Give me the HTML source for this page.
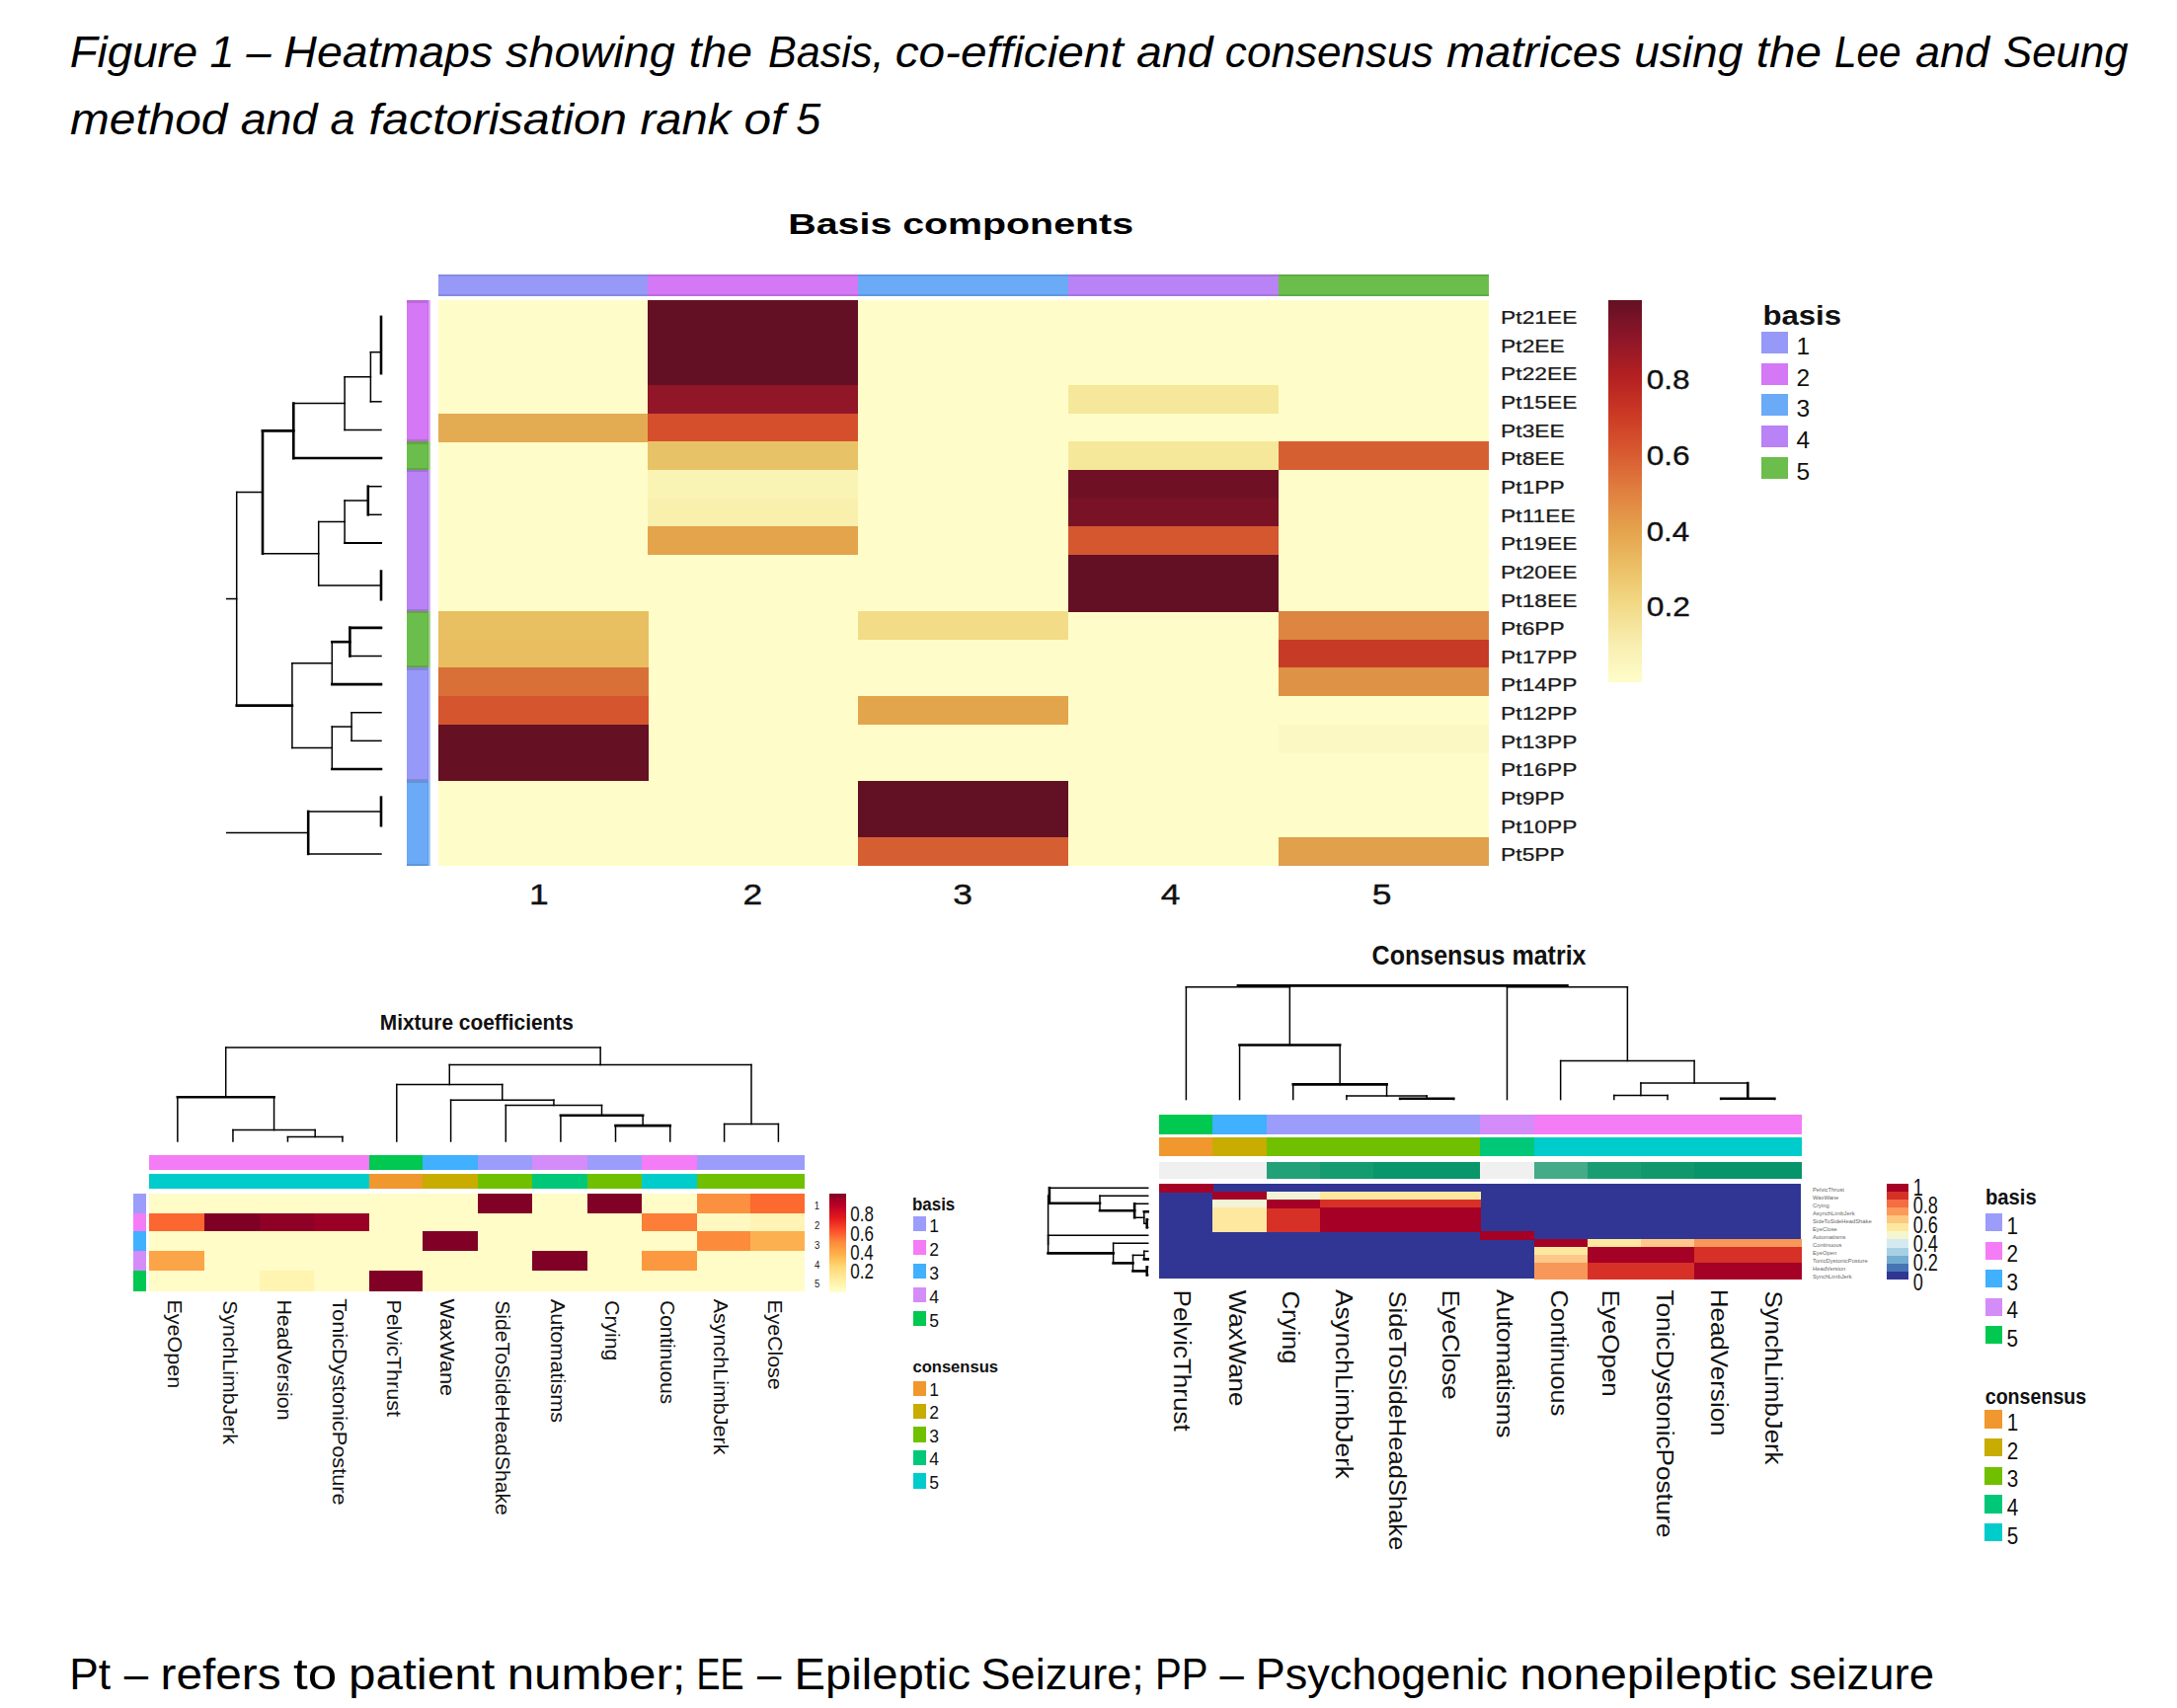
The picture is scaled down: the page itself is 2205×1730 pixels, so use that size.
<!DOCTYPE html><html><head><meta charset="utf-8"><style>html,body{margin:0;padding:0;background:#fff;overflow:hidden;}svg{display:block}text{font-family:"Liberation Sans",sans-serif;}</style></head><body>
<svg width="2205" height="1730" viewBox="0 0 2205 1730">
<rect x="0.00" y="0.00" width="2205.00" height="1730.00" fill="#fff" shape-rendering="crispEdges"/>
<text transform="translate(70.73,68.00) scale(1.0150,1)" font-size="45" font-weight="normal" font-style="italic" fill="#000">Figure</text>
<text transform="translate(212.51,68.00) scale(1.0000,1)" font-size="45" font-weight="normal" font-style="italic" fill="#000">1</text>
<text transform="translate(249.61,68.00) scale(1.0000,1)" font-size="45" font-weight="normal" font-style="italic" fill="#000">–</text>
<text transform="translate(287.30,68.00) scale(1.0333,1)" font-size="45" font-weight="normal" font-style="italic" fill="#000">Heatmaps</text>
<text transform="translate(512.08,68.00) scale(1.0402,1)" font-size="45" font-weight="normal" font-style="italic" fill="#000">showing</text>
<text transform="translate(697.72,68.00) scale(1.0280,1)" font-size="45" font-weight="normal" font-style="italic" fill="#000">the</text>
<text transform="translate(778.11,68.00) scale(0.9579,1)" font-size="45" font-weight="normal" font-style="italic" fill="#000">Basis,</text>
<text transform="translate(906.65,68.00) scale(1.0621,1)" font-size="45" font-weight="normal" font-style="italic" fill="#000">co-efficient</text>
<text transform="translate(1151.06,68.00) scale(1.0311,1)" font-size="45" font-weight="normal" font-style="italic" fill="#000">and</text>
<text transform="translate(1240.87,68.00) scale(0.9801,1)" font-size="45" font-weight="normal" font-style="italic" fill="#000">consensus</text>
<text transform="translate(1465.08,68.00) scale(1.0434,1)" font-size="45" font-weight="normal" font-style="italic" fill="#000">matrices</text>
<text transform="translate(1655.14,68.00) scale(1.0247,1)" font-size="45" font-weight="normal" font-style="italic" fill="#000">using</text>
<text transform="translate(1778.76,68.00) scale(1.0585,1)" font-size="45" font-weight="normal" font-style="italic" fill="#000">the</text>
<text transform="translate(1857.99,68.00) scale(0.9000,1)" font-size="45" font-weight="normal" font-style="italic" fill="#000">Lee</text>
<text transform="translate(1939.99,68.00) scale(1.0005,1)" font-size="45" font-weight="normal" font-style="italic" fill="#000">and</text>
<text transform="translate(2029.00,68.00) scale(0.9737,1)" font-size="45" font-weight="normal" font-style="italic" fill="#000">Seung</text>
<text transform="translate(71.06,136.00) scale(1.0623,1)" font-size="45" font-weight="normal" font-style="italic" fill="#000">method</text>
<text transform="translate(243.65,136.00) scale(1.0364,1)" font-size="45" font-weight="normal" font-style="italic" fill="#000">and</text>
<text transform="translate(334.39,136.00) scale(1.0000,1)" font-size="45" font-weight="normal" font-style="italic" fill="#000">a</text>
<text transform="translate(373.42,136.00) scale(1.0784,1)" font-size="45" font-weight="normal" font-style="italic" fill="#000">factorisation</text>
<text transform="translate(648.58,136.00) scale(1.0470,1)" font-size="45" font-weight="normal" font-style="italic" fill="#000">rank</text>
<text transform="translate(753.39,136.00) scale(1.1042,1)" font-size="45" font-weight="normal" font-style="italic" fill="#000">of</text>
<text transform="translate(806.30,136.00) scale(1.0000,1)" font-size="45" font-weight="normal" font-style="italic" fill="#000">5</text>
<text transform="translate(70.14,1710.70) scale(1.0144,1)" font-size="43.7" font-weight="normal" font-style="normal" fill="#000">Pt</text>
<text transform="translate(125.72,1710.70) scale(1.0000,1)" font-size="43.7" font-weight="normal" font-style="normal" fill="#000">–</text>
<text transform="translate(162.50,1710.70) scale(1.0924,1)" font-size="43.7" font-weight="normal" font-style="normal" fill="#000">refers</text>
<text transform="translate(296.90,1710.70) scale(1.2155,1)" font-size="43.7" font-weight="normal" font-style="normal" fill="#000">to</text>
<text transform="translate(353.09,1710.70) scale(1.1301,1)" font-size="43.7" font-weight="normal" font-style="normal" fill="#000">patient</text>
<text transform="translate(513.67,1710.70) scale(1.1285,1)" font-size="43.7" font-weight="normal" font-style="normal" fill="#000">number;</text>
<text transform="translate(705.53,1710.70) scale(0.8246,1)" font-size="43.7" font-weight="normal" font-style="normal" fill="#000">EE</text>
<text transform="translate(766.97,1710.70) scale(1.0000,1)" font-size="43.7" font-weight="normal" font-style="normal" fill="#000">–</text>
<text transform="translate(804.50,1710.70) scale(1.0812,1)" font-size="43.7" font-weight="normal" font-style="normal" fill="#000">Epileptic</text>
<text transform="translate(993.57,1710.70) scale(1.0313,1)" font-size="43.7" font-weight="normal" font-style="normal" fill="#000">Seizure;</text>
<text transform="translate(1169.89,1710.70) scale(0.9191,1)" font-size="43.7" font-weight="normal" font-style="normal" fill="#000">PP</text>
<text transform="translate(1235.52,1710.70) scale(1.0000,1)" font-size="43.7" font-weight="normal" font-style="normal" fill="#000">–</text>
<text transform="translate(1271.68,1710.70) scale(1.0306,1)" font-size="43.7" font-weight="normal" font-style="normal" fill="#000">Psychogenic</text>
<text transform="translate(1539.20,1710.70) scale(1.1179,1)" font-size="43.7" font-weight="normal" font-style="normal" fill="#000">nonepileptic</text>
<text transform="translate(1812.25,1710.70) scale(1.0416,1)" font-size="43.7" font-weight="normal" font-style="normal" fill="#000">seizure</text>
<text transform="translate(798.34,236.50) scale(1.3117,1)" font-size="30" font-weight="bold" font-style="normal" fill="#000">Basis components</text>
<rect x="443.50" y="304.30" width="1064.00" height="572.60" fill="#FEFDC9" shape-rendering="crispEdges"/>
<rect x="443.50" y="418.82" width="213.10" height="28.93" fill="#E4AC52" shape-rendering="crispEdges"/>
<rect x="443.50" y="619.23" width="213.10" height="28.93" fill="#E8C062" shape-rendering="crispEdges"/>
<rect x="443.50" y="647.86" width="213.10" height="28.93" fill="#E8BE60" shape-rendering="crispEdges"/>
<rect x="443.50" y="676.49" width="213.10" height="28.93" fill="#D97038" shape-rendering="crispEdges"/>
<rect x="443.50" y="705.12" width="213.10" height="28.93" fill="#D5552E" shape-rendering="crispEdges"/>
<rect x="443.50" y="733.75" width="213.10" height="28.93" fill="#661024" shape-rendering="crispEdges"/>
<rect x="443.50" y="762.38" width="213.10" height="28.93" fill="#661024" shape-rendering="crispEdges"/>
<rect x="656.30" y="304.30" width="213.10" height="28.93" fill="#641024" shape-rendering="crispEdges"/>
<rect x="656.30" y="332.93" width="213.10" height="28.93" fill="#641024" shape-rendering="crispEdges"/>
<rect x="656.30" y="361.56" width="213.10" height="28.93" fill="#641024" shape-rendering="crispEdges"/>
<rect x="656.30" y="390.19" width="213.10" height="28.93" fill="#911627" shape-rendering="crispEdges"/>
<rect x="656.30" y="418.82" width="213.10" height="28.93" fill="#D54F2D" shape-rendering="crispEdges"/>
<rect x="656.30" y="447.45" width="213.10" height="28.93" fill="#E8C266" shape-rendering="crispEdges"/>
<rect x="656.30" y="476.08" width="213.10" height="28.93" fill="#FAF4B4" shape-rendering="crispEdges"/>
<rect x="656.30" y="504.71" width="213.10" height="28.93" fill="#F9F0AE" shape-rendering="crispEdges"/>
<rect x="656.30" y="533.34" width="213.10" height="28.93" fill="#E3A44C" shape-rendering="crispEdges"/>
<rect x="869.10" y="619.23" width="213.10" height="28.93" fill="#F2DC88" shape-rendering="crispEdges"/>
<rect x="869.10" y="705.12" width="213.10" height="28.93" fill="#E3A54C" shape-rendering="crispEdges"/>
<rect x="869.10" y="791.01" width="213.10" height="28.93" fill="#621024" shape-rendering="crispEdges"/>
<rect x="869.10" y="819.64" width="213.10" height="28.93" fill="#621024" shape-rendering="crispEdges"/>
<rect x="869.10" y="848.27" width="213.10" height="28.93" fill="#D55F33" shape-rendering="crispEdges"/>
<rect x="1081.90" y="390.19" width="213.10" height="28.93" fill="#F6E89A" shape-rendering="crispEdges"/>
<rect x="1081.90" y="447.45" width="213.10" height="28.93" fill="#F6E89A" shape-rendering="crispEdges"/>
<rect x="1081.90" y="476.08" width="213.10" height="28.93" fill="#701024" shape-rendering="crispEdges"/>
<rect x="1081.90" y="504.71" width="213.10" height="28.93" fill="#7A1226" shape-rendering="crispEdges"/>
<rect x="1081.90" y="533.34" width="213.10" height="28.93" fill="#D55730" shape-rendering="crispEdges"/>
<rect x="1081.90" y="561.97" width="213.10" height="28.93" fill="#641024" shape-rendering="crispEdges"/>
<rect x="1081.90" y="590.60" width="213.10" height="28.93" fill="#641024" shape-rendering="crispEdges"/>
<rect x="1294.70" y="447.45" width="213.10" height="28.93" fill="#D65F32" shape-rendering="crispEdges"/>
<rect x="1294.70" y="619.23" width="213.10" height="28.93" fill="#DC8642" shape-rendering="crispEdges"/>
<rect x="1294.70" y="647.86" width="213.10" height="28.93" fill="#C73A26" shape-rendering="crispEdges"/>
<rect x="1294.70" y="676.49" width="213.10" height="28.93" fill="#DE9245" shape-rendering="crispEdges"/>
<rect x="1294.70" y="733.75" width="213.10" height="28.93" fill="#FBF8C4" shape-rendering="crispEdges"/>
<rect x="1294.70" y="848.27" width="213.10" height="28.93" fill="#E0A04C" shape-rendering="crispEdges"/>
<rect x="443.50" y="278.10" width="213.10" height="21.60" fill="#9699F7" shape-rendering="crispEdges"/>
<rect x="443.50" y="278.10" width="213.10" height="2.20" fill="#8789DE" shape-rendering="crispEdges"/>
<rect x="443.50" y="297.50" width="213.10" height="2.20" fill="#8789DE" shape-rendering="crispEdges"/>
<rect x="656.30" y="278.10" width="213.10" height="21.60" fill="#D478F6" shape-rendering="crispEdges"/>
<rect x="656.30" y="278.10" width="213.10" height="2.20" fill="#BE6CDD" shape-rendering="crispEdges"/>
<rect x="656.30" y="297.50" width="213.10" height="2.20" fill="#BE6CDD" shape-rendering="crispEdges"/>
<rect x="869.10" y="278.10" width="213.10" height="21.60" fill="#6AAAF6" shape-rendering="crispEdges"/>
<rect x="869.10" y="278.10" width="213.10" height="2.20" fill="#5F99DD" shape-rendering="crispEdges"/>
<rect x="869.10" y="297.50" width="213.10" height="2.20" fill="#5F99DD" shape-rendering="crispEdges"/>
<rect x="1081.90" y="278.10" width="213.10" height="21.60" fill="#B982F5" shape-rendering="crispEdges"/>
<rect x="1081.90" y="278.10" width="213.10" height="2.20" fill="#A675DC" shape-rendering="crispEdges"/>
<rect x="1081.90" y="297.50" width="213.10" height="2.20" fill="#A675DC" shape-rendering="crispEdges"/>
<rect x="1294.70" y="278.10" width="213.10" height="21.60" fill="#6CBE4C" shape-rendering="crispEdges"/>
<rect x="1294.70" y="278.10" width="213.10" height="2.20" fill="#61AB44" shape-rendering="crispEdges"/>
<rect x="1294.70" y="297.50" width="213.10" height="2.20" fill="#61AB44" shape-rendering="crispEdges"/>
<rect x="411.60" y="304.30" width="24.70" height="28.93" fill="#D478F6" shape-rendering="crispEdges"/>
<rect x="411.60" y="304.30" width="24.70" height="2.20" fill="#BA69D8" shape-rendering="crispEdges"/>
<rect x="432.60" y="304.30" width="1.60" height="28.93" fill="#C36EE2" shape-rendering="crispEdges"/>
<rect x="434.20" y="304.30" width="2.10" height="28.93" fill="#E3A7F9" shape-rendering="crispEdges"/>
<rect x="411.60" y="332.93" width="24.70" height="28.93" fill="#D478F6" shape-rendering="crispEdges"/>
<rect x="432.60" y="332.93" width="1.60" height="28.93" fill="#C36EE2" shape-rendering="crispEdges"/>
<rect x="434.20" y="332.93" width="2.10" height="28.93" fill="#E3A7F9" shape-rendering="crispEdges"/>
<rect x="411.60" y="361.56" width="24.70" height="28.93" fill="#D478F6" shape-rendering="crispEdges"/>
<rect x="432.60" y="361.56" width="1.60" height="28.93" fill="#C36EE2" shape-rendering="crispEdges"/>
<rect x="434.20" y="361.56" width="2.10" height="28.93" fill="#E3A7F9" shape-rendering="crispEdges"/>
<rect x="411.60" y="390.19" width="24.70" height="28.93" fill="#D478F6" shape-rendering="crispEdges"/>
<rect x="432.60" y="390.19" width="1.60" height="28.93" fill="#C36EE2" shape-rendering="crispEdges"/>
<rect x="434.20" y="390.19" width="2.10" height="28.93" fill="#E3A7F9" shape-rendering="crispEdges"/>
<rect x="411.60" y="418.82" width="24.70" height="28.93" fill="#D478F6" shape-rendering="crispEdges"/>
<rect x="411.60" y="445.25" width="24.70" height="2.20" fill="#BA69D8" shape-rendering="crispEdges"/>
<rect x="432.60" y="418.82" width="1.60" height="28.93" fill="#C36EE2" shape-rendering="crispEdges"/>
<rect x="434.20" y="418.82" width="2.10" height="28.93" fill="#E3A7F9" shape-rendering="crispEdges"/>
<rect x="411.60" y="447.45" width="24.70" height="28.93" fill="#6CBE4C" shape-rendering="crispEdges"/>
<rect x="411.60" y="447.45" width="24.70" height="2.20" fill="#5FA742" shape-rendering="crispEdges"/>
<rect x="411.60" y="473.88" width="24.70" height="2.20" fill="#5FA742" shape-rendering="crispEdges"/>
<rect x="432.60" y="447.45" width="1.60" height="28.93" fill="#63AE45" shape-rendering="crispEdges"/>
<rect x="434.20" y="447.45" width="2.10" height="28.93" fill="#9FD48A" shape-rendering="crispEdges"/>
<rect x="411.60" y="476.08" width="24.70" height="28.93" fill="#B982F5" shape-rendering="crispEdges"/>
<rect x="411.60" y="476.08" width="24.70" height="2.20" fill="#A272D7" shape-rendering="crispEdges"/>
<rect x="432.60" y="476.08" width="1.60" height="28.93" fill="#AA77E1" shape-rendering="crispEdges"/>
<rect x="434.20" y="476.08" width="2.10" height="28.93" fill="#D1ADF8" shape-rendering="crispEdges"/>
<rect x="411.60" y="504.71" width="24.70" height="28.93" fill="#B982F5" shape-rendering="crispEdges"/>
<rect x="432.60" y="504.71" width="1.60" height="28.93" fill="#AA77E1" shape-rendering="crispEdges"/>
<rect x="434.20" y="504.71" width="2.10" height="28.93" fill="#D1ADF8" shape-rendering="crispEdges"/>
<rect x="411.60" y="533.34" width="24.70" height="28.93" fill="#B982F5" shape-rendering="crispEdges"/>
<rect x="432.60" y="533.34" width="1.60" height="28.93" fill="#AA77E1" shape-rendering="crispEdges"/>
<rect x="434.20" y="533.34" width="2.10" height="28.93" fill="#D1ADF8" shape-rendering="crispEdges"/>
<rect x="411.60" y="561.97" width="24.70" height="28.93" fill="#B982F5" shape-rendering="crispEdges"/>
<rect x="432.60" y="561.97" width="1.60" height="28.93" fill="#AA77E1" shape-rendering="crispEdges"/>
<rect x="434.20" y="561.97" width="2.10" height="28.93" fill="#D1ADF8" shape-rendering="crispEdges"/>
<rect x="411.60" y="590.60" width="24.70" height="28.93" fill="#B982F5" shape-rendering="crispEdges"/>
<rect x="411.60" y="617.03" width="24.70" height="2.20" fill="#A272D7" shape-rendering="crispEdges"/>
<rect x="432.60" y="590.60" width="1.60" height="28.93" fill="#AA77E1" shape-rendering="crispEdges"/>
<rect x="434.20" y="590.60" width="2.10" height="28.93" fill="#D1ADF8" shape-rendering="crispEdges"/>
<rect x="411.60" y="619.23" width="24.70" height="28.93" fill="#6CBE4C" shape-rendering="crispEdges"/>
<rect x="411.60" y="619.23" width="24.70" height="2.20" fill="#5FA742" shape-rendering="crispEdges"/>
<rect x="432.60" y="619.23" width="1.60" height="28.93" fill="#63AE45" shape-rendering="crispEdges"/>
<rect x="434.20" y="619.23" width="2.10" height="28.93" fill="#9FD48A" shape-rendering="crispEdges"/>
<rect x="411.60" y="647.86" width="24.70" height="28.93" fill="#6CBE4C" shape-rendering="crispEdges"/>
<rect x="411.60" y="674.29" width="24.70" height="2.20" fill="#5FA742" shape-rendering="crispEdges"/>
<rect x="432.60" y="647.86" width="1.60" height="28.93" fill="#63AE45" shape-rendering="crispEdges"/>
<rect x="434.20" y="647.86" width="2.10" height="28.93" fill="#9FD48A" shape-rendering="crispEdges"/>
<rect x="411.60" y="676.49" width="24.70" height="28.93" fill="#9699F7" shape-rendering="crispEdges"/>
<rect x="411.60" y="676.49" width="24.70" height="2.20" fill="#8486D9" shape-rendering="crispEdges"/>
<rect x="432.60" y="676.49" width="1.60" height="28.93" fill="#8A8CE3" shape-rendering="crispEdges"/>
<rect x="434.20" y="676.49" width="2.10" height="28.93" fill="#BABCF9" shape-rendering="crispEdges"/>
<rect x="411.60" y="705.12" width="24.70" height="28.93" fill="#9699F7" shape-rendering="crispEdges"/>
<rect x="432.60" y="705.12" width="1.60" height="28.93" fill="#8A8CE3" shape-rendering="crispEdges"/>
<rect x="434.20" y="705.12" width="2.10" height="28.93" fill="#BABCF9" shape-rendering="crispEdges"/>
<rect x="411.60" y="733.75" width="24.70" height="28.93" fill="#9699F7" shape-rendering="crispEdges"/>
<rect x="432.60" y="733.75" width="1.60" height="28.93" fill="#8A8CE3" shape-rendering="crispEdges"/>
<rect x="434.20" y="733.75" width="2.10" height="28.93" fill="#BABCF9" shape-rendering="crispEdges"/>
<rect x="411.60" y="762.38" width="24.70" height="28.93" fill="#9699F7" shape-rendering="crispEdges"/>
<rect x="411.60" y="788.81" width="24.70" height="2.20" fill="#8486D9" shape-rendering="crispEdges"/>
<rect x="432.60" y="762.38" width="1.60" height="28.93" fill="#8A8CE3" shape-rendering="crispEdges"/>
<rect x="434.20" y="762.38" width="2.10" height="28.93" fill="#BABCF9" shape-rendering="crispEdges"/>
<rect x="411.60" y="791.01" width="24.70" height="28.93" fill="#6AAAF6" shape-rendering="crispEdges"/>
<rect x="411.60" y="791.01" width="24.70" height="2.20" fill="#5D95D8" shape-rendering="crispEdges"/>
<rect x="432.60" y="791.01" width="1.60" height="28.93" fill="#619CE2" shape-rendering="crispEdges"/>
<rect x="434.20" y="791.01" width="2.10" height="28.93" fill="#9EC7F9" shape-rendering="crispEdges"/>
<rect x="411.60" y="819.64" width="24.70" height="28.93" fill="#6AAAF6" shape-rendering="crispEdges"/>
<rect x="432.60" y="819.64" width="1.60" height="28.93" fill="#619CE2" shape-rendering="crispEdges"/>
<rect x="434.20" y="819.64" width="2.10" height="28.93" fill="#9EC7F9" shape-rendering="crispEdges"/>
<rect x="411.60" y="848.27" width="24.70" height="28.93" fill="#6AAAF6" shape-rendering="crispEdges"/>
<rect x="411.60" y="874.70" width="24.70" height="2.20" fill="#5D95D8" shape-rendering="crispEdges"/>
<rect x="432.60" y="848.27" width="1.60" height="28.93" fill="#619CE2" shape-rendering="crispEdges"/>
<rect x="434.20" y="848.27" width="2.10" height="28.93" fill="#9EC7F9" shape-rendering="crispEdges"/>
<text transform="translate(1520.12,328.22) scale(1.2,1)" font-size="19" fill="#1a1a1a" stroke="#1a1a1a" stroke-width="0.25">Pt21EE</text>
<text transform="translate(1520.12,356.85) scale(1.2,1)" font-size="19" fill="#1a1a1a" stroke="#1a1a1a" stroke-width="0.25">Pt2EE</text>
<text transform="translate(1520.12,385.48) scale(1.2,1)" font-size="19" fill="#1a1a1a" stroke="#1a1a1a" stroke-width="0.25">Pt22EE</text>
<text transform="translate(1520.12,414.11) scale(1.2,1)" font-size="19" fill="#1a1a1a" stroke="#1a1a1a" stroke-width="0.25">Pt15EE</text>
<text transform="translate(1520.12,442.74) scale(1.2,1)" font-size="19" fill="#1a1a1a" stroke="#1a1a1a" stroke-width="0.25">Pt3EE</text>
<text transform="translate(1520.12,471.37) scale(1.2,1)" font-size="19" fill="#1a1a1a" stroke="#1a1a1a" stroke-width="0.25">Pt8EE</text>
<text transform="translate(1520.12,500.00) scale(1.2,1)" font-size="19" fill="#1a1a1a" stroke="#1a1a1a" stroke-width="0.25">Pt1PP</text>
<text transform="translate(1520.12,528.62) scale(1.2,1)" font-size="19" fill="#1a1a1a" stroke="#1a1a1a" stroke-width="0.25">Pt11EE</text>
<text transform="translate(1520.12,557.25) scale(1.2,1)" font-size="19" fill="#1a1a1a" stroke="#1a1a1a" stroke-width="0.25">Pt19EE</text>
<text transform="translate(1520.12,585.89) scale(1.2,1)" font-size="19" fill="#1a1a1a" stroke="#1a1a1a" stroke-width="0.25">Pt20EE</text>
<text transform="translate(1520.12,614.51) scale(1.2,1)" font-size="19" fill="#1a1a1a" stroke="#1a1a1a" stroke-width="0.25">Pt18EE</text>
<text transform="translate(1520.12,643.15) scale(1.2,1)" font-size="19" fill="#1a1a1a" stroke="#1a1a1a" stroke-width="0.25">Pt6PP</text>
<text transform="translate(1520.12,671.77) scale(1.2,1)" font-size="19" fill="#1a1a1a" stroke="#1a1a1a" stroke-width="0.25">Pt17PP</text>
<text transform="translate(1520.12,700.41) scale(1.2,1)" font-size="19" fill="#1a1a1a" stroke="#1a1a1a" stroke-width="0.25">Pt14PP</text>
<text transform="translate(1520.12,729.03) scale(1.2,1)" font-size="19" fill="#1a1a1a" stroke="#1a1a1a" stroke-width="0.25">Pt12PP</text>
<text transform="translate(1520.12,757.67) scale(1.2,1)" font-size="19" fill="#1a1a1a" stroke="#1a1a1a" stroke-width="0.25">Pt13PP</text>
<text transform="translate(1520.12,786.29) scale(1.2,1)" font-size="19" fill="#1a1a1a" stroke="#1a1a1a" stroke-width="0.25">Pt16PP</text>
<text transform="translate(1520.12,814.93) scale(1.2,1)" font-size="19" fill="#1a1a1a" stroke="#1a1a1a" stroke-width="0.25">Pt9PP</text>
<text transform="translate(1520.12,843.55) scale(1.2,1)" font-size="19" fill="#1a1a1a" stroke="#1a1a1a" stroke-width="0.25">Pt10PP</text>
<text transform="translate(1520.12,872.19) scale(1.2,1)" font-size="19" fill="#1a1a1a" stroke="#1a1a1a" stroke-width="0.25">Pt5PP</text>
<text transform="translate(535.99,915.50) scale(1.2000,1)" font-size="29.5" font-weight="normal" fill="#111" stroke="#111" stroke-width="0.4">1</text>
<text transform="translate(752.48,915.50) scale(1.2000,1)" font-size="29.5" font-weight="normal" fill="#111" stroke="#111" stroke-width="0.4">2</text>
<text transform="translate(965.16,915.50) scale(1.2000,1)" font-size="29.5" font-weight="normal" fill="#111" stroke="#111" stroke-width="0.4">3</text>
<text transform="translate(1175.87,915.50) scale(1.2000,1)" font-size="29.5" font-weight="normal" fill="#111" stroke="#111" stroke-width="0.4">4</text>
<text transform="translate(1389.68,915.50) scale(1.2000,1)" font-size="29.5" font-weight="normal" fill="#111" stroke="#111" stroke-width="0.4">5</text>
<defs><linearGradient id="gb" x1="0" y1="0" x2="0" y2="1"><stop offset="0" stop-color="#641024"/><stop offset="0.1" stop-color="#8E1628"/><stop offset="0.2" stop-color="#B42021"/><stop offset="0.3" stop-color="#CC3A25"/><stop offset="0.4" stop-color="#D85A30"/><stop offset="0.5" stop-color="#E08040"/><stop offset="0.6" stop-color="#E5A24C"/><stop offset="0.7" stop-color="#EBC066"/><stop offset="0.8" stop-color="#F2DA88"/><stop offset="0.9" stop-color="#F8EEB0"/><stop offset="1" stop-color="#FEFDCA"/></linearGradient><linearGradient id="gm" x1="0" y1="0" x2="0" y2="1"><stop offset="0" stop-color="#800026"/><stop offset="0.125" stop-color="#BD0026"/><stop offset="0.25" stop-color="#E31A1C"/><stop offset="0.375" stop-color="#FC4E2A"/><stop offset="0.5" stop-color="#FD8D3C"/><stop offset="0.625" stop-color="#FEB24C"/><stop offset="0.75" stop-color="#FED976"/><stop offset="0.875" stop-color="#FFEDA0"/><stop offset="1" stop-color="#FFFFCC"/></linearGradient></defs>
<rect x="1629.00" y="304.30" width="34.20" height="387.00" fill="url(#gb)" shape-rendering="crispEdges"/>
<text transform="translate(1667.74,393.80) scale(1.1083,1)" font-size="28.5" font-weight="normal" font-style="normal" fill="#111" stroke="#111" stroke-width="0.35">0.8</text>
<text transform="translate(1667.74,471.00) scale(1.1083,1)" font-size="28.5" font-weight="normal" font-style="normal" fill="#111" stroke="#111" stroke-width="0.35">0.6</text>
<text transform="translate(1667.75,547.60) scale(1.0957,1)" font-size="28.5" font-weight="normal" font-style="normal" fill="#111" stroke="#111" stroke-width="0.35">0.4</text>
<text transform="translate(1667.73,624.30) scale(1.1147,1)" font-size="28.5" font-weight="normal" font-style="normal" fill="#111" stroke="#111" stroke-width="0.35">0.2</text>
<text transform="translate(1785.48,328.60) scale(1.1534,1)" font-size="27" font-weight="bold" font-style="normal" fill="#111">basis</text>
<rect x="1784.20" y="336.00" width="26.80" height="21.80" fill="#9699F7" shape-rendering="crispEdges"/>
<text transform="translate(1819.60,358.90) scale(1.0000,1)" font-size="24.5" font-weight="normal" fill="#111">1</text>
<rect x="1784.20" y="367.70" width="26.80" height="21.80" fill="#D478F6" shape-rendering="crispEdges"/>
<text transform="translate(1819.60,390.60) scale(1.0000,1)" font-size="24.5" font-weight="normal" fill="#111">2</text>
<rect x="1784.20" y="399.40" width="26.80" height="21.80" fill="#6AAAF6" shape-rendering="crispEdges"/>
<text transform="translate(1819.60,422.30) scale(1.0000,1)" font-size="24.5" font-weight="normal" fill="#111">3</text>
<rect x="1784.20" y="431.10" width="26.80" height="21.80" fill="#B982F5" shape-rendering="crispEdges"/>
<text transform="translate(1819.60,454.00) scale(1.0000,1)" font-size="24.5" font-weight="normal" fill="#111">4</text>
<rect x="1784.20" y="462.80" width="26.80" height="21.80" fill="#6CBE4C" shape-rendering="crispEdges"/>
<text transform="translate(1819.60,485.70) scale(1.0000,1)" font-size="24.5" font-weight="normal" fill="#111">5</text>
<line x1="386.00" y1="320.92" x2="386.00" y2="378.18" stroke="#000" stroke-width="2.6" stroke-linecap="square"/>
<line x1="375.40" y1="356.70" x2="375.40" y2="406.81" stroke="#000" stroke-width="1.5" stroke-linecap="square"/>
<line x1="375.40" y1="356.70" x2="386.00" y2="356.70" stroke="#000" stroke-width="1.5" stroke-linecap="square"/>
<line x1="375.40" y1="406.81" x2="386.00" y2="406.81" stroke="#000" stroke-width="1.5" stroke-linecap="square"/>
<line x1="349.10" y1="381.75" x2="349.10" y2="435.44" stroke="#000" stroke-width="1.5" stroke-linecap="square"/>
<line x1="349.10" y1="381.75" x2="375.40" y2="381.75" stroke="#000" stroke-width="1.5" stroke-linecap="square"/>
<line x1="349.10" y1="435.44" x2="386.00" y2="435.44" stroke="#000" stroke-width="1.5" stroke-linecap="square"/>
<line x1="297.30" y1="408.59" x2="297.30" y2="464.06" stroke="#000" stroke-width="2.6" stroke-linecap="square"/>
<line x1="297.30" y1="408.59" x2="349.10" y2="408.59" stroke="#000" stroke-width="1.5" stroke-linecap="square"/>
<line x1="297.30" y1="464.06" x2="386.00" y2="464.06" stroke="#000" stroke-width="2.6" stroke-linecap="square"/>
<line x1="372.80" y1="492.69" x2="372.80" y2="521.32" stroke="#000" stroke-width="2.6" stroke-linecap="square"/>
<line x1="372.80" y1="492.69" x2="386.00" y2="492.69" stroke="#000" stroke-width="1.5" stroke-linecap="square"/>
<line x1="372.80" y1="521.32" x2="386.00" y2="521.32" stroke="#000" stroke-width="1.5" stroke-linecap="square"/>
<line x1="349.10" y1="507.01" x2="349.10" y2="549.95" stroke="#000" stroke-width="1.5" stroke-linecap="square"/>
<line x1="349.10" y1="507.01" x2="372.80" y2="507.01" stroke="#000" stroke-width="1.5" stroke-linecap="square"/>
<line x1="349.10" y1="549.95" x2="386.00" y2="549.95" stroke="#000" stroke-width="2.0" stroke-linecap="square"/>
<line x1="386.00" y1="578.59" x2="386.00" y2="607.21" stroke="#000" stroke-width="2.6" stroke-linecap="square"/>
<line x1="322.70" y1="528.48" x2="322.70" y2="592.90" stroke="#000" stroke-width="1.5" stroke-linecap="square"/>
<line x1="322.70" y1="528.48" x2="349.10" y2="528.48" stroke="#000" stroke-width="1.5" stroke-linecap="square"/>
<line x1="322.70" y1="592.90" x2="386.00" y2="592.90" stroke="#000" stroke-width="1.5" stroke-linecap="square"/>
<line x1="266.00" y1="436.33" x2="266.00" y2="560.69" stroke="#000" stroke-width="2.6" stroke-linecap="square"/>
<line x1="266.00" y1="436.33" x2="297.30" y2="436.33" stroke="#000" stroke-width="2.6" stroke-linecap="square"/>
<line x1="266.00" y1="560.69" x2="322.70" y2="560.69" stroke="#000" stroke-width="1.5" stroke-linecap="square"/>
<line x1="354.40" y1="635.85" x2="354.40" y2="664.47" stroke="#000" stroke-width="2.6" stroke-linecap="square"/>
<line x1="354.40" y1="635.85" x2="386.00" y2="635.85" stroke="#000" stroke-width="2.6" stroke-linecap="square"/>
<line x1="354.40" y1="664.47" x2="386.00" y2="664.47" stroke="#000" stroke-width="1.5" stroke-linecap="square"/>
<line x1="336.30" y1="650.16" x2="336.30" y2="693.11" stroke="#000" stroke-width="1.5" stroke-linecap="square"/>
<line x1="336.30" y1="650.16" x2="354.40" y2="650.16" stroke="#000" stroke-width="2.6" stroke-linecap="square"/>
<line x1="336.30" y1="693.11" x2="386.00" y2="693.11" stroke="#000" stroke-width="2.6" stroke-linecap="square"/>
<line x1="356.10" y1="721.73" x2="356.10" y2="750.37" stroke="#000" stroke-width="1.5" stroke-linecap="square"/>
<line x1="356.10" y1="721.73" x2="386.00" y2="721.73" stroke="#000" stroke-width="1.5" stroke-linecap="square"/>
<line x1="356.10" y1="750.37" x2="386.00" y2="750.37" stroke="#000" stroke-width="1.5" stroke-linecap="square"/>
<line x1="336.30" y1="736.05" x2="336.30" y2="778.99" stroke="#000" stroke-width="1.5" stroke-linecap="square"/>
<line x1="336.30" y1="736.05" x2="356.10" y2="736.05" stroke="#000" stroke-width="1.5" stroke-linecap="square"/>
<line x1="336.30" y1="778.99" x2="386.00" y2="778.99" stroke="#000" stroke-width="2.6" stroke-linecap="square"/>
<line x1="295.90" y1="671.63" x2="295.90" y2="757.52" stroke="#000" stroke-width="1.5" stroke-linecap="square"/>
<line x1="295.90" y1="671.63" x2="336.30" y2="671.63" stroke="#000" stroke-width="1.5" stroke-linecap="square"/>
<line x1="295.90" y1="757.52" x2="336.30" y2="757.52" stroke="#000" stroke-width="1.5" stroke-linecap="square"/>
<line x1="239.70" y1="498.51" x2="239.70" y2="714.58" stroke="#000" stroke-width="1.5" stroke-linecap="square"/>
<line x1="239.70" y1="498.51" x2="266.00" y2="498.51" stroke="#000" stroke-width="1.5" stroke-linecap="square"/>
<line x1="239.70" y1="714.58" x2="295.90" y2="714.58" stroke="#000" stroke-width="2.6" stroke-linecap="square"/>
<line x1="229.70" y1="606.54" x2="239.70" y2="606.54" stroke="#000" stroke-width="1.5" stroke-linecap="square"/>
<line x1="386.00" y1="807.62" x2="386.00" y2="836.25" stroke="#000" stroke-width="2.6" stroke-linecap="square"/>
<line x1="312.20" y1="821.94" x2="312.20" y2="864.88" stroke="#000" stroke-width="2.6" stroke-linecap="square"/>
<line x1="312.20" y1="821.94" x2="386.00" y2="821.94" stroke="#000" stroke-width="1.5" stroke-linecap="square"/>
<line x1="312.20" y1="864.88" x2="386.00" y2="864.88" stroke="#000" stroke-width="1.5" stroke-linecap="square"/>
<line x1="229.70" y1="843.41" x2="312.20" y2="843.41" stroke="#000" stroke-width="1.5" stroke-linecap="square"/>
<text transform="translate(384.79,1042.80) scale(0.9162,1)" font-size="22.8" font-weight="bold" font-style="normal" fill="#111">Mixture coefficients</text>
<rect x="151.10" y="1208.70" width="663.96" height="99.20" fill="#FFFCC8" shape-rendering="crispEdges"/>
<rect x="483.80" y="1208.70" width="55.40" height="20.20" fill="#800026" shape-rendering="crispEdges"/>
<rect x="595.00" y="1208.70" width="55.40" height="20.20" fill="#800026" shape-rendering="crispEdges"/>
<rect x="705.50" y="1208.70" width="54.60" height="20.20" fill="#FA9040" shape-rendering="crispEdges"/>
<rect x="760.10" y="1208.70" width="55.00" height="20.20" fill="#FC6A30" shape-rendering="crispEdges"/>
<rect x="151.10" y="1228.90" width="55.90" height="18.10" fill="#FC6630" shape-rendering="crispEdges"/>
<rect x="207.00" y="1228.90" width="56.30" height="18.10" fill="#7E0024" shape-rendering="crispEdges"/>
<rect x="263.30" y="1228.90" width="54.70" height="18.10" fill="#8E0026" shape-rendering="crispEdges"/>
<rect x="318.00" y="1228.90" width="56.20" height="18.10" fill="#9A0026" shape-rendering="crispEdges"/>
<rect x="650.40" y="1228.90" width="55.10" height="18.10" fill="#FC7E38" shape-rendering="crispEdges"/>
<rect x="705.50" y="1228.90" width="54.60" height="18.10" fill="#FFF8C0" shape-rendering="crispEdges"/>
<rect x="760.10" y="1228.90" width="55.00" height="18.10" fill="#FFF3B6" shape-rendering="crispEdges"/>
<rect x="427.80" y="1247.00" width="56.00" height="20.20" fill="#800026" shape-rendering="crispEdges"/>
<rect x="705.50" y="1247.00" width="54.60" height="20.20" fill="#FC8C3C" shape-rendering="crispEdges"/>
<rect x="760.10" y="1247.00" width="55.00" height="20.20" fill="#FDB050" shape-rendering="crispEdges"/>
<rect x="151.10" y="1267.20" width="55.90" height="19.60" fill="#FCA448" shape-rendering="crispEdges"/>
<rect x="539.20" y="1267.20" width="55.80" height="19.60" fill="#800026" shape-rendering="crispEdges"/>
<rect x="650.40" y="1267.20" width="55.10" height="19.60" fill="#FC9840" shape-rendering="crispEdges"/>
<rect x="263.30" y="1286.80" width="54.70" height="21.10" fill="#FFF4B0" shape-rendering="crispEdges"/>
<rect x="374.20" y="1286.80" width="53.60" height="21.10" fill="#800026" shape-rendering="crispEdges"/>
<rect x="151.10" y="1170.10" width="55.90" height="14.40" fill="#F47CF6" shape-rendering="crispEdges"/>
<rect x="151.10" y="1189.00" width="55.90" height="14.50" fill="#00CCCC" shape-rendering="crispEdges"/>
<rect x="207.00" y="1170.10" width="56.30" height="14.40" fill="#F47CF6" shape-rendering="crispEdges"/>
<rect x="207.00" y="1189.00" width="56.30" height="14.50" fill="#00CCCC" shape-rendering="crispEdges"/>
<rect x="263.30" y="1170.10" width="54.70" height="14.40" fill="#F47CF6" shape-rendering="crispEdges"/>
<rect x="263.30" y="1189.00" width="54.70" height="14.50" fill="#00CCCC" shape-rendering="crispEdges"/>
<rect x="318.00" y="1170.10" width="56.20" height="14.40" fill="#F47CF6" shape-rendering="crispEdges"/>
<rect x="318.00" y="1189.00" width="56.20" height="14.50" fill="#00CCCC" shape-rendering="crispEdges"/>
<rect x="374.20" y="1170.10" width="53.60" height="14.40" fill="#00C850" shape-rendering="crispEdges"/>
<rect x="374.20" y="1189.00" width="53.60" height="14.50" fill="#F0982E" shape-rendering="crispEdges"/>
<rect x="427.80" y="1170.10" width="56.00" height="14.40" fill="#40B0FF" shape-rendering="crispEdges"/>
<rect x="427.80" y="1189.00" width="56.00" height="14.50" fill="#C8AC00" shape-rendering="crispEdges"/>
<rect x="483.80" y="1170.10" width="55.40" height="14.40" fill="#9C9CFA" shape-rendering="crispEdges"/>
<rect x="483.80" y="1189.00" width="55.40" height="14.50" fill="#70C000" shape-rendering="crispEdges"/>
<rect x="539.20" y="1170.10" width="55.80" height="14.40" fill="#D48CF8" shape-rendering="crispEdges"/>
<rect x="539.20" y="1189.00" width="55.80" height="14.50" fill="#00C878" shape-rendering="crispEdges"/>
<rect x="595.00" y="1170.10" width="55.40" height="14.40" fill="#9C9CFA" shape-rendering="crispEdges"/>
<rect x="595.00" y="1189.00" width="55.40" height="14.50" fill="#70C000" shape-rendering="crispEdges"/>
<rect x="650.40" y="1170.10" width="55.10" height="14.40" fill="#F47CF6" shape-rendering="crispEdges"/>
<rect x="650.40" y="1189.00" width="55.10" height="14.50" fill="#00CCCC" shape-rendering="crispEdges"/>
<rect x="705.50" y="1170.10" width="54.60" height="14.40" fill="#9C9CFA" shape-rendering="crispEdges"/>
<rect x="705.50" y="1189.00" width="54.60" height="14.50" fill="#70C000" shape-rendering="crispEdges"/>
<rect x="760.10" y="1170.10" width="55.00" height="14.40" fill="#9C9CFA" shape-rendering="crispEdges"/>
<rect x="760.10" y="1189.00" width="55.00" height="14.50" fill="#70C000" shape-rendering="crispEdges"/>
<rect x="135.00" y="1208.70" width="13.10" height="20.20" fill="#9C9CFA" shape-rendering="crispEdges"/>
<rect x="135.00" y="1228.90" width="13.10" height="18.10" fill="#F47CF6" shape-rendering="crispEdges"/>
<rect x="135.00" y="1247.00" width="13.10" height="20.20" fill="#40B0FF" shape-rendering="crispEdges"/>
<rect x="135.00" y="1267.20" width="13.10" height="19.60" fill="#D48CF8" shape-rendering="crispEdges"/>
<rect x="135.00" y="1286.80" width="13.10" height="21.10" fill="#00C850" shape-rendering="crispEdges"/>
<text transform="translate(824.80,1224.60) scale(0.8500,1)" font-size="11.3" font-weight="normal" fill="#222">1</text>
<text transform="translate(824.93,1244.90) scale(0.8500,1)" font-size="11.3" font-weight="normal" fill="#222">2</text>
<text transform="translate(824.96,1265.20) scale(0.8500,1)" font-size="11.3" font-weight="normal" fill="#222">3</text>
<text transform="translate(824.96,1285.00) scale(0.8500,1)" font-size="11.3" font-weight="normal" fill="#222">4</text>
<text transform="translate(824.93,1303.70) scale(0.8500,1)" font-size="11.3" font-weight="normal" fill="#222">5</text>
<rect x="840.40" y="1208.80" width="16.80" height="99.80" fill="url(#gm)" shape-rendering="crispEdges"/>
<text transform="translate(861.32,1237.20) scale(0.7971,1)" font-size="21.3" font-weight="normal" font-style="normal" fill="#111">0.8</text>
<text transform="translate(861.32,1256.50) scale(0.7971,1)" font-size="21.3" font-weight="normal" font-style="normal" fill="#111">0.6</text>
<text transform="translate(861.33,1275.80) scale(0.7881,1)" font-size="21.3" font-weight="normal" font-style="normal" fill="#111">0.4</text>
<text transform="translate(861.32,1295.00) scale(0.8017,1)" font-size="21.3" font-weight="normal" font-style="normal" fill="#111">0.2</text>
<text transform="translate(924.00,1225.70) scale(0.8915,1)" font-size="19" font-weight="bold" font-style="normal" fill="#111">basis</text>
<rect x="925.10" y="1232.00" width="13.10" height="15.00" fill="#9C9CFA" shape-rendering="crispEdges"/>
<text transform="translate(941.20,1247.90) scale(1.0000,1)" font-size="17.5" font-weight="normal" fill="#111">1</text>
<rect x="925.10" y="1255.90" width="13.10" height="15.00" fill="#F47CF6" shape-rendering="crispEdges"/>
<text transform="translate(941.20,1271.80) scale(1.0000,1)" font-size="17.5" font-weight="normal" fill="#111">2</text>
<rect x="925.10" y="1279.80" width="13.10" height="15.00" fill="#40B0FF" shape-rendering="crispEdges"/>
<text transform="translate(941.20,1295.70) scale(1.0000,1)" font-size="17.5" font-weight="normal" fill="#111">3</text>
<rect x="925.10" y="1303.70" width="13.10" height="15.00" fill="#D48CF8" shape-rendering="crispEdges"/>
<text transform="translate(941.20,1319.60) scale(1.0000,1)" font-size="17.5" font-weight="normal" fill="#111">4</text>
<rect x="925.10" y="1327.60" width="13.10" height="15.00" fill="#00C850" shape-rendering="crispEdges"/>
<text transform="translate(941.20,1343.50) scale(1.0000,1)" font-size="17.5" font-weight="normal" fill="#111">5</text>
<text transform="translate(924.44,1389.80) scale(0.9757,1)" font-size="17" font-weight="bold" font-style="normal" fill="#111">consensus</text>
<rect x="925.10" y="1398.50" width="13.10" height="15.50" fill="#F0982E" shape-rendering="crispEdges"/>
<text transform="translate(941.20,1414.00) scale(1.0000,1)" font-size="17.5" font-weight="normal" fill="#111">1</text>
<rect x="925.10" y="1421.90" width="13.10" height="15.50" fill="#C8AC00" shape-rendering="crispEdges"/>
<text transform="translate(941.20,1437.40) scale(1.0000,1)" font-size="17.5" font-weight="normal" fill="#111">2</text>
<rect x="925.10" y="1445.30" width="13.10" height="15.50" fill="#70C000" shape-rendering="crispEdges"/>
<text transform="translate(941.20,1460.80) scale(1.0000,1)" font-size="17.5" font-weight="normal" fill="#111">3</text>
<rect x="925.10" y="1468.70" width="13.10" height="15.50" fill="#00C878" shape-rendering="crispEdges"/>
<text transform="translate(941.20,1484.20) scale(1.0000,1)" font-size="17.5" font-weight="normal" fill="#111">4</text>
<rect x="925.10" y="1492.10" width="13.10" height="15.50" fill="#00CCCC" shape-rendering="crispEdges"/>
<text transform="translate(941.20,1507.60) scale(1.0000,1)" font-size="17.5" font-weight="normal" fill="#111">5</text>
<text transform="translate(169.61,1316.42) rotate(90) scale(1.0276,1)" font-size="21" font-weight="normal" fill="#111">EyeOpen</text>
<text transform="translate(225.71,1317.24) rotate(90) scale(1.0148,1)" font-size="21" font-weight="normal" fill="#111">SynchLimbJerk</text>
<text transform="translate(281.21,1316.44) rotate(90) scale(1.0164,1)" font-size="21" font-weight="normal" fill="#111">HeadVersion</text>
<text transform="translate(336.66,1315.21) rotate(90) scale(1.0386,1)" font-size="21" font-weight="normal" fill="#111">TonicDystonicPosture</text>
<text transform="translate(391.56,1316.42) rotate(90) scale(1.0258,1)" font-size="21" font-weight="normal" fill="#111">PelvicThrust</text>
<text transform="translate(446.36,1315.59) rotate(90) scale(1.0351,1)" font-size="21" font-weight="normal" fill="#111">WaxWane</text>
<text transform="translate(502.06,1317.25) rotate(90) scale(1.0077,1)" font-size="21" font-weight="normal" fill="#111">SideToSideHeadShake</text>
<text transform="translate(557.66,1315.65) rotate(90) scale(1.0357,1)" font-size="21" font-weight="normal" fill="#111">Automatisms</text>
<text transform="translate(613.26,1317.14) rotate(90) scale(1.0073,1)" font-size="21" font-weight="normal" fill="#111">Crying</text>
<text transform="translate(668.51,1317.16) rotate(90) scale(0.9888,1)" font-size="21" font-weight="normal" fill="#111">Continuous</text>
<text transform="translate(723.36,1315.65) rotate(90) scale(1.0254,1)" font-size="21" font-weight="normal" fill="#111">AsynchLimbJerk</text>
<text transform="translate(778.16,1316.44) rotate(90) scale(1.0149,1)" font-size="21" font-weight="normal" fill="#111">EyeClose</text>
<line x1="291.45" y1="1151.60" x2="346.90" y2="1151.60" stroke="#000" stroke-width="1.5" stroke-linecap="square"/>
<line x1="291.45" y1="1151.60" x2="291.45" y2="1156.00" stroke="#000" stroke-width="1.5" stroke-linecap="square"/>
<line x1="346.90" y1="1151.60" x2="346.90" y2="1156.00" stroke="#000" stroke-width="1.5" stroke-linecap="square"/>
<line x1="235.95" y1="1144.60" x2="319.18" y2="1144.60" stroke="#000" stroke-width="1.5" stroke-linecap="square"/>
<line x1="235.95" y1="1144.60" x2="235.95" y2="1156.00" stroke="#000" stroke-width="1.5" stroke-linecap="square"/>
<line x1="319.18" y1="1144.60" x2="319.18" y2="1151.60" stroke="#000" stroke-width="1.5" stroke-linecap="square"/>
<line x1="179.85" y1="1111.20" x2="277.56" y2="1111.20" stroke="#000" stroke-width="2.6" stroke-linecap="square"/>
<line x1="179.85" y1="1111.20" x2="179.85" y2="1156.00" stroke="#000" stroke-width="1.5" stroke-linecap="square"/>
<line x1="277.56" y1="1111.20" x2="277.56" y2="1144.60" stroke="#000" stroke-width="1.5" stroke-linecap="square"/>
<line x1="623.50" y1="1140.10" x2="678.75" y2="1140.10" stroke="#000" stroke-width="2.6" stroke-linecap="square"/>
<line x1="623.50" y1="1140.10" x2="623.50" y2="1156.00" stroke="#000" stroke-width="1.5" stroke-linecap="square"/>
<line x1="678.75" y1="1140.10" x2="678.75" y2="1156.00" stroke="#000" stroke-width="1.5" stroke-linecap="square"/>
<line x1="567.90" y1="1129.80" x2="651.12" y2="1129.80" stroke="#000" stroke-width="2.6" stroke-linecap="square"/>
<line x1="567.90" y1="1129.80" x2="567.90" y2="1156.00" stroke="#000" stroke-width="1.5" stroke-linecap="square"/>
<line x1="651.12" y1="1129.80" x2="651.12" y2="1140.10" stroke="#000" stroke-width="1.5" stroke-linecap="square"/>
<line x1="512.30" y1="1119.50" x2="609.51" y2="1119.50" stroke="#000" stroke-width="1.5" stroke-linecap="square"/>
<line x1="512.30" y1="1119.50" x2="512.30" y2="1156.00" stroke="#000" stroke-width="1.5" stroke-linecap="square"/>
<line x1="609.51" y1="1119.50" x2="609.51" y2="1129.80" stroke="#000" stroke-width="1.5" stroke-linecap="square"/>
<line x1="456.60" y1="1114.30" x2="560.91" y2="1114.30" stroke="#000" stroke-width="1.5" stroke-linecap="square"/>
<line x1="456.60" y1="1114.30" x2="456.60" y2="1156.00" stroke="#000" stroke-width="1.5" stroke-linecap="square"/>
<line x1="560.91" y1="1114.30" x2="560.91" y2="1119.50" stroke="#000" stroke-width="1.5" stroke-linecap="square"/>
<line x1="401.80" y1="1098.60" x2="508.75" y2="1098.60" stroke="#000" stroke-width="1.5" stroke-linecap="square"/>
<line x1="401.80" y1="1098.60" x2="401.80" y2="1156.00" stroke="#000" stroke-width="1.5" stroke-linecap="square"/>
<line x1="508.75" y1="1098.60" x2="508.75" y2="1114.30" stroke="#000" stroke-width="1.5" stroke-linecap="square"/>
<line x1="733.60" y1="1138.50" x2="788.40" y2="1138.50" stroke="#000" stroke-width="1.5" stroke-linecap="square"/>
<line x1="733.60" y1="1138.50" x2="733.60" y2="1156.00" stroke="#000" stroke-width="1.5" stroke-linecap="square"/>
<line x1="788.40" y1="1138.50" x2="788.40" y2="1156.00" stroke="#000" stroke-width="1.5" stroke-linecap="square"/>
<line x1="455.28" y1="1078.50" x2="761.00" y2="1078.50" stroke="#000" stroke-width="1.5" stroke-linecap="square"/>
<line x1="455.28" y1="1078.50" x2="455.28" y2="1098.60" stroke="#000" stroke-width="1.5" stroke-linecap="square"/>
<line x1="761.00" y1="1078.50" x2="761.00" y2="1138.50" stroke="#000" stroke-width="1.5" stroke-linecap="square"/>
<line x1="228.71" y1="1061.00" x2="608.14" y2="1061.00" stroke="#000" stroke-width="1.5" stroke-linecap="square"/>
<line x1="228.71" y1="1061.00" x2="228.71" y2="1111.20" stroke="#000" stroke-width="1.5" stroke-linecap="square"/>
<line x1="608.14" y1="1061.00" x2="608.14" y2="1078.50" stroke="#000" stroke-width="1.5" stroke-linecap="square"/>
<text transform="translate(1389.60,976.70) scale(0.8941,1)" font-size="28" font-weight="bold" font-style="normal" fill="#111">Consensus matrix</text>
<rect x="1174.30" y="1199.20" width="650.16" height="96.24" fill="#313695" shape-rendering="crispEdges"/>
<rect x="1174.30" y="1199.20" width="54.48" height="8.32" fill="#A50026" shape-rendering="crispEdges"/>
<rect x="1228.48" y="1207.22" width="54.48" height="8.32" fill="#A50026" shape-rendering="crispEdges"/>
<rect x="1282.66" y="1207.22" width="54.48" height="8.32" fill="#F2F4D8" shape-rendering="crispEdges"/>
<rect x="1228.48" y="1215.24" width="54.48" height="8.32" fill="#F2F4D8" shape-rendering="crispEdges"/>
<rect x="1336.84" y="1207.22" width="54.48" height="8.32" fill="#FEE8A0" shape-rendering="crispEdges"/>
<rect x="1228.48" y="1223.26" width="54.48" height="8.32" fill="#FEE8A0" shape-rendering="crispEdges"/>
<rect x="1336.84" y="1215.24" width="54.48" height="8.32" fill="#D73027" shape-rendering="crispEdges"/>
<rect x="1282.66" y="1223.26" width="54.48" height="8.32" fill="#D73027" shape-rendering="crispEdges"/>
<rect x="1391.02" y="1207.22" width="54.48" height="8.32" fill="#FEE8A0" shape-rendering="crispEdges"/>
<rect x="1228.48" y="1231.28" width="54.48" height="8.32" fill="#FEE8A0" shape-rendering="crispEdges"/>
<rect x="1391.02" y="1215.24" width="54.48" height="8.32" fill="#D73027" shape-rendering="crispEdges"/>
<rect x="1282.66" y="1231.28" width="54.48" height="8.32" fill="#D73027" shape-rendering="crispEdges"/>
<rect x="1445.20" y="1207.22" width="54.48" height="8.32" fill="#FEE8A0" shape-rendering="crispEdges"/>
<rect x="1228.48" y="1239.30" width="54.48" height="8.32" fill="#FEE8A0" shape-rendering="crispEdges"/>
<rect x="1445.20" y="1215.24" width="54.48" height="8.32" fill="#D73027" shape-rendering="crispEdges"/>
<rect x="1282.66" y="1239.30" width="54.48" height="8.32" fill="#D73027" shape-rendering="crispEdges"/>
<rect x="1282.66" y="1215.24" width="54.48" height="8.32" fill="#A50026" shape-rendering="crispEdges"/>
<rect x="1336.84" y="1223.26" width="54.48" height="8.32" fill="#A50026" shape-rendering="crispEdges"/>
<rect x="1391.02" y="1223.26" width="54.48" height="8.32" fill="#A50026" shape-rendering="crispEdges"/>
<rect x="1336.84" y="1231.28" width="54.48" height="8.32" fill="#A50026" shape-rendering="crispEdges"/>
<rect x="1445.20" y="1223.26" width="54.48" height="8.32" fill="#A50026" shape-rendering="crispEdges"/>
<rect x="1336.84" y="1239.30" width="54.48" height="8.32" fill="#A50026" shape-rendering="crispEdges"/>
<rect x="1391.02" y="1231.28" width="54.48" height="8.32" fill="#A50026" shape-rendering="crispEdges"/>
<rect x="1445.20" y="1231.28" width="54.48" height="8.32" fill="#A50026" shape-rendering="crispEdges"/>
<rect x="1391.02" y="1239.30" width="54.48" height="8.32" fill="#A50026" shape-rendering="crispEdges"/>
<rect x="1445.20" y="1239.30" width="54.48" height="8.32" fill="#A50026" shape-rendering="crispEdges"/>
<rect x="1499.38" y="1247.32" width="54.48" height="8.32" fill="#A50026" shape-rendering="crispEdges"/>
<rect x="1553.56" y="1255.34" width="54.48" height="8.32" fill="#A50026" shape-rendering="crispEdges"/>
<rect x="1607.74" y="1255.34" width="54.48" height="8.32" fill="#FEE8A0" shape-rendering="crispEdges"/>
<rect x="1553.56" y="1263.36" width="54.48" height="8.32" fill="#FEE8A0" shape-rendering="crispEdges"/>
<rect x="1661.92" y="1255.34" width="54.48" height="8.32" fill="#FDC88A" shape-rendering="crispEdges"/>
<rect x="1553.56" y="1271.38" width="54.48" height="8.32" fill="#FDC88A" shape-rendering="crispEdges"/>
<rect x="1716.10" y="1255.34" width="54.48" height="8.32" fill="#F89858" shape-rendering="crispEdges"/>
<rect x="1553.56" y="1279.40" width="54.48" height="8.32" fill="#F89858" shape-rendering="crispEdges"/>
<rect x="1770.28" y="1255.34" width="54.48" height="8.32" fill="#F89858" shape-rendering="crispEdges"/>
<rect x="1553.56" y="1287.42" width="54.48" height="8.32" fill="#F89858" shape-rendering="crispEdges"/>
<rect x="1607.74" y="1263.36" width="54.48" height="8.32" fill="#A50026" shape-rendering="crispEdges"/>
<rect x="1661.92" y="1263.36" width="54.48" height="8.32" fill="#A50026" shape-rendering="crispEdges"/>
<rect x="1607.74" y="1271.38" width="54.48" height="8.32" fill="#A50026" shape-rendering="crispEdges"/>
<rect x="1661.92" y="1271.38" width="54.48" height="8.32" fill="#A50026" shape-rendering="crispEdges"/>
<rect x="1716.10" y="1263.36" width="54.48" height="8.32" fill="#D73027" shape-rendering="crispEdges"/>
<rect x="1607.74" y="1279.40" width="54.48" height="8.32" fill="#D73027" shape-rendering="crispEdges"/>
<rect x="1770.28" y="1263.36" width="54.48" height="8.32" fill="#D73027" shape-rendering="crispEdges"/>
<rect x="1607.74" y="1287.42" width="54.48" height="8.32" fill="#D73027" shape-rendering="crispEdges"/>
<rect x="1716.10" y="1271.38" width="54.48" height="8.32" fill="#D73027" shape-rendering="crispEdges"/>
<rect x="1661.92" y="1279.40" width="54.48" height="8.32" fill="#D73027" shape-rendering="crispEdges"/>
<rect x="1770.28" y="1271.38" width="54.48" height="8.32" fill="#D73027" shape-rendering="crispEdges"/>
<rect x="1661.92" y="1287.42" width="54.48" height="8.32" fill="#D73027" shape-rendering="crispEdges"/>
<rect x="1716.10" y="1279.40" width="54.48" height="8.32" fill="#A50026" shape-rendering="crispEdges"/>
<rect x="1770.28" y="1279.40" width="54.48" height="8.32" fill="#A50026" shape-rendering="crispEdges"/>
<rect x="1716.10" y="1287.42" width="54.48" height="8.32" fill="#A50026" shape-rendering="crispEdges"/>
<rect x="1770.28" y="1287.42" width="54.48" height="8.32" fill="#A50026" shape-rendering="crispEdges"/>
<rect x="1174.30" y="1128.90" width="54.48" height="19.60" fill="#00C850" shape-rendering="crispEdges"/>
<rect x="1174.30" y="1151.70" width="54.48" height="19.00" fill="#F0982E" shape-rendering="crispEdges"/>
<rect x="1174.30" y="1176.60" width="54.48" height="16.90" fill="#F0F0F0" shape-rendering="crispEdges"/>
<rect x="1228.48" y="1128.90" width="54.48" height="19.60" fill="#40B0FF" shape-rendering="crispEdges"/>
<rect x="1228.48" y="1151.70" width="54.48" height="19.00" fill="#C8AC00" shape-rendering="crispEdges"/>
<rect x="1228.48" y="1176.60" width="54.48" height="16.90" fill="#F0F0F0" shape-rendering="crispEdges"/>
<rect x="1282.66" y="1128.90" width="54.48" height="19.60" fill="#9C9CFA" shape-rendering="crispEdges"/>
<rect x="1282.66" y="1151.70" width="54.48" height="19.00" fill="#70C000" shape-rendering="crispEdges"/>
<rect x="1282.66" y="1176.60" width="54.48" height="16.90" fill="#22A077" shape-rendering="crispEdges"/>
<rect x="1336.84" y="1128.90" width="54.48" height="19.60" fill="#9C9CFA" shape-rendering="crispEdges"/>
<rect x="1336.84" y="1151.70" width="54.48" height="19.00" fill="#70C000" shape-rendering="crispEdges"/>
<rect x="1336.84" y="1176.60" width="54.48" height="16.90" fill="#159B70" shape-rendering="crispEdges"/>
<rect x="1391.02" y="1128.90" width="54.48" height="19.60" fill="#9C9CFA" shape-rendering="crispEdges"/>
<rect x="1391.02" y="1151.70" width="54.48" height="19.00" fill="#70C000" shape-rendering="crispEdges"/>
<rect x="1391.02" y="1176.60" width="54.48" height="16.90" fill="#08966A" shape-rendering="crispEdges"/>
<rect x="1445.20" y="1128.90" width="54.48" height="19.60" fill="#9C9CFA" shape-rendering="crispEdges"/>
<rect x="1445.20" y="1151.70" width="54.48" height="19.00" fill="#70C000" shape-rendering="crispEdges"/>
<rect x="1445.20" y="1176.60" width="54.48" height="16.90" fill="#08966A" shape-rendering="crispEdges"/>
<rect x="1499.38" y="1128.90" width="54.48" height="19.60" fill="#D48CF8" shape-rendering="crispEdges"/>
<rect x="1499.38" y="1151.70" width="54.48" height="19.00" fill="#00C878" shape-rendering="crispEdges"/>
<rect x="1499.38" y="1176.60" width="54.48" height="16.90" fill="#F0F0F0" shape-rendering="crispEdges"/>
<rect x="1553.56" y="1128.90" width="54.48" height="19.60" fill="#F47CF6" shape-rendering="crispEdges"/>
<rect x="1553.56" y="1151.70" width="54.48" height="19.00" fill="#00CCCC" shape-rendering="crispEdges"/>
<rect x="1553.56" y="1176.60" width="54.48" height="16.90" fill="#44AA88" shape-rendering="crispEdges"/>
<rect x="1607.74" y="1128.90" width="54.48" height="19.60" fill="#F47CF6" shape-rendering="crispEdges"/>
<rect x="1607.74" y="1151.70" width="54.48" height="19.00" fill="#00CCCC" shape-rendering="crispEdges"/>
<rect x="1607.74" y="1176.60" width="54.48" height="16.90" fill="#1A9C72" shape-rendering="crispEdges"/>
<rect x="1661.92" y="1128.90" width="54.48" height="19.60" fill="#F47CF6" shape-rendering="crispEdges"/>
<rect x="1661.92" y="1151.70" width="54.48" height="19.00" fill="#00CCCC" shape-rendering="crispEdges"/>
<rect x="1661.92" y="1176.60" width="54.48" height="16.90" fill="#10986C" shape-rendering="crispEdges"/>
<rect x="1716.10" y="1128.90" width="54.48" height="19.60" fill="#F47CF6" shape-rendering="crispEdges"/>
<rect x="1716.10" y="1151.70" width="54.48" height="19.00" fill="#00CCCC" shape-rendering="crispEdges"/>
<rect x="1716.10" y="1176.60" width="54.48" height="16.90" fill="#08946A" shape-rendering="crispEdges"/>
<rect x="1770.28" y="1128.90" width="54.48" height="19.60" fill="#F47CF6" shape-rendering="crispEdges"/>
<rect x="1770.28" y="1151.70" width="54.48" height="19.00" fill="#00CCCC" shape-rendering="crispEdges"/>
<rect x="1770.28" y="1176.60" width="54.48" height="16.90" fill="#08946A" shape-rendering="crispEdges"/>
<text x="1836" y="1206.81" font-size="5.8" fill="#666">PelvicThrust</text>
<text x="1836" y="1214.83" font-size="5.8" fill="#666">WaxWane</text>
<text x="1836" y="1222.85" font-size="5.8" fill="#666">Crying</text>
<text x="1836" y="1230.87" font-size="5.8" fill="#666">AsynchLimbJerk</text>
<text x="1836" y="1238.89" font-size="5.8" fill="#666">SideToSideHeadShake</text>
<text x="1836" y="1246.91" font-size="5.8" fill="#666">EyeClose</text>
<text x="1836" y="1254.93" font-size="5.8" fill="#666">Automatisms</text>
<text x="1836" y="1262.95" font-size="5.8" fill="#666">Continuous</text>
<text x="1836" y="1270.97" font-size="5.8" fill="#666">EyeOpen</text>
<text x="1836" y="1278.99" font-size="5.8" fill="#666">TonicDystonicPosture</text>
<text x="1836" y="1287.01" font-size="5.8" fill="#666">HeadVersion</text>
<text x="1836" y="1295.03" font-size="5.8" fill="#666">SynchLimbJerk</text>
<rect x="1911.10" y="1199.00" width="21.60" height="8.40" fill="#A50026" shape-rendering="crispEdges"/>
<rect x="1911.10" y="1207.07" width="21.60" height="8.40" fill="#D73027" shape-rendering="crispEdges"/>
<rect x="1911.10" y="1215.14" width="21.60" height="8.40" fill="#F46D43" shape-rendering="crispEdges"/>
<rect x="1911.10" y="1223.21" width="21.60" height="8.40" fill="#FB9A5A" shape-rendering="crispEdges"/>
<rect x="1911.10" y="1231.28" width="21.60" height="8.40" fill="#FDC880" shape-rendering="crispEdges"/>
<rect x="1911.10" y="1239.35" width="21.60" height="8.40" fill="#FEE8A0" shape-rendering="crispEdges"/>
<rect x="1911.10" y="1247.42" width="21.60" height="8.40" fill="#F4F6D0" shape-rendering="crispEdges"/>
<rect x="1911.10" y="1255.49" width="21.60" height="8.40" fill="#D4EAF0" shape-rendering="crispEdges"/>
<rect x="1911.10" y="1263.56" width="21.60" height="8.40" fill="#A8D0E4" shape-rendering="crispEdges"/>
<rect x="1911.10" y="1271.63" width="21.60" height="8.40" fill="#74ADD1" shape-rendering="crispEdges"/>
<rect x="1911.10" y="1279.70" width="21.60" height="8.40" fill="#4575B4" shape-rendering="crispEdges"/>
<rect x="1911.10" y="1287.77" width="21.60" height="8.40" fill="#313695" shape-rendering="crispEdges"/>
<text transform="translate(1937.70,1210.80) scale(0.7400,1)" font-size="24.5" font-weight="normal" fill="#111">1</text>
<text transform="translate(1937.70,1229.00) scale(0.7400,1)" font-size="24.5" font-weight="normal" fill="#111">0.8</text>
<text transform="translate(1937.70,1249.40) scale(0.7400,1)" font-size="24.5" font-weight="normal" fill="#111">0.6</text>
<text transform="translate(1937.70,1268.10) scale(0.7400,1)" font-size="24.5" font-weight="normal" fill="#111">0.4</text>
<text transform="translate(1937.70,1286.90) scale(0.7400,1)" font-size="24.5" font-weight="normal" fill="#111">0.2</text>
<text transform="translate(1937.70,1306.70) scale(0.7400,1)" font-size="24.5" font-weight="normal" fill="#111">0</text>
<text transform="translate(2010.98,1219.70) scale(0.9202,1)" font-size="22" font-weight="bold" font-style="normal" fill="#111">basis</text>
<rect x="2010.60" y="1229.00" width="17.10" height="18.00" fill="#9C9CFA" shape-rendering="crispEdges"/>
<text transform="translate(2032.50,1249.50) scale(0.9000,1)" font-size="23" font-weight="normal" fill="#111">1</text>
<rect x="2010.60" y="1257.60" width="17.10" height="18.00" fill="#F47CF6" shape-rendering="crispEdges"/>
<text transform="translate(2032.50,1278.10) scale(0.9000,1)" font-size="23" font-weight="normal" fill="#111">2</text>
<rect x="2010.60" y="1286.20" width="17.10" height="18.00" fill="#40B0FF" shape-rendering="crispEdges"/>
<text transform="translate(2032.50,1306.70) scale(0.9000,1)" font-size="23" font-weight="normal" fill="#111">3</text>
<rect x="2010.60" y="1314.80" width="17.10" height="18.00" fill="#D48CF8" shape-rendering="crispEdges"/>
<text transform="translate(2032.50,1335.30) scale(0.9000,1)" font-size="23" font-weight="normal" fill="#111">4</text>
<rect x="2010.60" y="1343.40" width="17.10" height="18.00" fill="#00C850" shape-rendering="crispEdges"/>
<text transform="translate(2032.50,1363.90) scale(0.9000,1)" font-size="23" font-weight="normal" fill="#111">5</text>
<text transform="translate(2010.71,1421.50) scale(0.8927,1)" font-size="22" font-weight="bold" font-style="normal" fill="#111">consensus</text>
<rect x="2010.40" y="1428.40" width="17.60" height="18.30" fill="#F0982E" shape-rendering="crispEdges"/>
<text transform="translate(2032.70,1448.90) scale(0.9000,1)" font-size="23" font-weight="normal" fill="#111">1</text>
<rect x="2010.40" y="1457.05" width="17.60" height="18.30" fill="#C8AC00" shape-rendering="crispEdges"/>
<text transform="translate(2032.70,1477.55) scale(0.9000,1)" font-size="23" font-weight="normal" fill="#111">2</text>
<rect x="2010.40" y="1485.70" width="17.60" height="18.30" fill="#70C000" shape-rendering="crispEdges"/>
<text transform="translate(2032.70,1506.20) scale(0.9000,1)" font-size="23" font-weight="normal" fill="#111">3</text>
<rect x="2010.40" y="1514.35" width="17.60" height="18.30" fill="#00C878" shape-rendering="crispEdges"/>
<text transform="translate(2032.70,1534.85) scale(0.9000,1)" font-size="23" font-weight="normal" fill="#111">4</text>
<rect x="2010.40" y="1543.00" width="17.60" height="18.30" fill="#00CCCC" shape-rendering="crispEdges"/>
<text transform="translate(2032.70,1563.50) scale(0.9000,1)" font-size="23" font-weight="normal" fill="#111">5</text>
<text transform="translate(1189.35,1306.55) rotate(90) scale(1.0497,1)" font-size="24.8" font-weight="normal" fill="#111">PelvicThrust</text>
<text transform="translate(1244.55,1306.87) rotate(90) scale(1.0444,1)" font-size="24.8" font-weight="normal" fill="#111">WaxWane</text>
<text transform="translate(1298.85,1307.42) rotate(90) scale(1.0360,1)" font-size="24.8" font-weight="normal" fill="#111">Crying</text>
<text transform="translate(1353.25,1306.03) rotate(90) scale(1.0553,1)" font-size="24.8" font-weight="normal" fill="#111">AsynchLimbJerk</text>
<text transform="translate(1406.75,1307.55) rotate(90) scale(1.0309,1)" font-size="24.8" font-weight="normal" fill="#111">SideToSideHeadShake</text>
<text transform="translate(1461.05,1306.56) rotate(90) scale(1.0468,1)" font-size="24.8" font-weight="normal" fill="#111">EyeClose</text>
<text transform="translate(1515.95,1306.03) rotate(90) scale(1.0498,1)" font-size="24.8" font-weight="normal" fill="#111">Automatisms</text>
<text transform="translate(1570.85,1306.54) rotate(90) scale(1.0188,1)" font-size="24.8" font-weight="normal" fill="#111">Continuous</text>
<text transform="translate(1623.45,1306.56) rotate(90) scale(1.0465,1)" font-size="24.8" font-weight="normal" fill="#111">EyeOpen</text>
<text transform="translate(1678.45,1306.41) rotate(90) scale(1.0539,1)" font-size="24.8" font-weight="normal" fill="#111">TonicDystonicPosture</text>
<text transform="translate(1732.55,1305.65) rotate(90) scale(1.0493,1)" font-size="24.8" font-weight="normal" fill="#111">HeadVersion</text>
<text transform="translate(1787.65,1307.54) rotate(90) scale(1.0386,1)" font-size="24.8" font-weight="normal" fill="#111">SynchLimbJerk</text>
<line x1="1418.11" y1="1112.70" x2="1472.29" y2="1112.70" stroke="#000" stroke-width="2.6" stroke-linecap="square"/>
<line x1="1418.11" y1="1112.70" x2="1418.11" y2="1113.60" stroke="#000" stroke-width="1.5" stroke-linecap="square"/>
<line x1="1472.29" y1="1112.70" x2="1472.29" y2="1113.60" stroke="#000" stroke-width="1.5" stroke-linecap="square"/>
<line x1="1363.93" y1="1110.00" x2="1445.20" y2="1110.00" stroke="#000" stroke-width="1.5" stroke-linecap="square"/>
<line x1="1363.93" y1="1110.00" x2="1363.93" y2="1113.60" stroke="#000" stroke-width="1.5" stroke-linecap="square"/>
<line x1="1445.20" y1="1110.00" x2="1445.20" y2="1112.70" stroke="#000" stroke-width="1.5" stroke-linecap="square"/>
<line x1="1309.75" y1="1098.40" x2="1404.56" y2="1098.40" stroke="#000" stroke-width="2.6" stroke-linecap="square"/>
<line x1="1309.75" y1="1098.40" x2="1309.75" y2="1113.60" stroke="#000" stroke-width="1.5" stroke-linecap="square"/>
<line x1="1404.56" y1="1098.40" x2="1404.56" y2="1110.00" stroke="#000" stroke-width="1.5" stroke-linecap="square"/>
<line x1="1255.57" y1="1058.50" x2="1357.16" y2="1058.50" stroke="#000" stroke-width="2.6" stroke-linecap="square"/>
<line x1="1255.57" y1="1058.50" x2="1255.57" y2="1113.60" stroke="#000" stroke-width="1.5" stroke-linecap="square"/>
<line x1="1357.16" y1="1058.50" x2="1357.16" y2="1098.40" stroke="#000" stroke-width="1.5" stroke-linecap="square"/>
<line x1="1201.39" y1="999.70" x2="1306.36" y2="999.70" stroke="#000" stroke-width="1.5" stroke-linecap="square"/>
<line x1="1201.39" y1="999.70" x2="1201.39" y2="1113.60" stroke="#000" stroke-width="1.5" stroke-linecap="square"/>
<line x1="1306.36" y1="999.70" x2="1306.36" y2="1058.50" stroke="#000" stroke-width="1.5" stroke-linecap="square"/>
<line x1="1634.83" y1="1109.40" x2="1689.01" y2="1109.40" stroke="#000" stroke-width="1.5" stroke-linecap="square"/>
<line x1="1634.83" y1="1109.40" x2="1634.83" y2="1113.60" stroke="#000" stroke-width="1.5" stroke-linecap="square"/>
<line x1="1689.01" y1="1109.40" x2="1689.01" y2="1113.60" stroke="#000" stroke-width="1.5" stroke-linecap="square"/>
<line x1="1743.19" y1="1112.70" x2="1797.37" y2="1112.70" stroke="#000" stroke-width="2.6" stroke-linecap="square"/>
<line x1="1743.19" y1="1112.70" x2="1743.19" y2="1113.60" stroke="#000" stroke-width="1.5" stroke-linecap="square"/>
<line x1="1797.37" y1="1112.70" x2="1797.37" y2="1113.60" stroke="#000" stroke-width="1.5" stroke-linecap="square"/>
<line x1="1661.92" y1="1097.10" x2="1770.28" y2="1097.10" stroke="#000" stroke-width="1.5" stroke-linecap="square"/>
<line x1="1661.92" y1="1097.10" x2="1661.92" y2="1109.40" stroke="#000" stroke-width="1.5" stroke-linecap="square"/>
<line x1="1770.28" y1="1097.10" x2="1770.28" y2="1112.70" stroke="#000" stroke-width="2.6" stroke-linecap="square"/>
<line x1="1580.65" y1="1074.50" x2="1716.10" y2="1074.50" stroke="#000" stroke-width="1.5" stroke-linecap="square"/>
<line x1="1580.65" y1="1074.50" x2="1580.65" y2="1113.60" stroke="#000" stroke-width="1.5" stroke-linecap="square"/>
<line x1="1716.10" y1="1074.50" x2="1716.10" y2="1097.10" stroke="#000" stroke-width="1.5" stroke-linecap="square"/>
<line x1="1526.47" y1="999.70" x2="1648.38" y2="999.70" stroke="#000" stroke-width="1.5" stroke-linecap="square"/>
<line x1="1526.47" y1="999.70" x2="1526.47" y2="1113.60" stroke="#000" stroke-width="1.5" stroke-linecap="square"/>
<line x1="1648.38" y1="999.70" x2="1648.38" y2="1074.50" stroke="#000" stroke-width="1.5" stroke-linecap="square"/>
<line x1="1253.88" y1="998.40" x2="1587.42" y2="998.40" stroke="#000" stroke-width="2.6" stroke-linecap="square"/>
<line x1="1161.70" y1="1235.29" x2="1161.70" y2="1243.31" stroke="#000" stroke-width="2.6" stroke-linecap="square"/>
<line x1="1161.70" y1="1235.29" x2="1162.70" y2="1235.29" stroke="#000" stroke-width="1.5" stroke-linecap="square"/>
<line x1="1161.70" y1="1243.31" x2="1162.70" y2="1243.31" stroke="#000" stroke-width="1.5" stroke-linecap="square"/>
<line x1="1158.80" y1="1227.27" x2="1158.80" y2="1239.30" stroke="#000" stroke-width="1.5" stroke-linecap="square"/>
<line x1="1158.80" y1="1227.27" x2="1162.70" y2="1227.27" stroke="#000" stroke-width="2.6" stroke-linecap="square"/>
<line x1="1158.80" y1="1239.30" x2="1161.70" y2="1239.30" stroke="#000" stroke-width="1.5" stroke-linecap="square"/>
<line x1="1149.10" y1="1219.25" x2="1149.10" y2="1233.28" stroke="#000" stroke-width="2.6" stroke-linecap="square"/>
<line x1="1149.10" y1="1219.25" x2="1162.70" y2="1219.25" stroke="#000" stroke-width="1.5" stroke-linecap="square"/>
<line x1="1149.10" y1="1233.28" x2="1158.80" y2="1233.28" stroke="#000" stroke-width="1.5" stroke-linecap="square"/>
<line x1="1114.00" y1="1211.23" x2="1114.00" y2="1226.27" stroke="#000" stroke-width="1.5" stroke-linecap="square"/>
<line x1="1114.00" y1="1211.23" x2="1162.70" y2="1211.23" stroke="#000" stroke-width="1.5" stroke-linecap="square"/>
<line x1="1114.00" y1="1226.27" x2="1149.10" y2="1226.27" stroke="#000" stroke-width="2.6" stroke-linecap="square"/>
<line x1="1062.90" y1="1203.21" x2="1062.90" y2="1218.75" stroke="#000" stroke-width="2.6" stroke-linecap="square"/>
<line x1="1062.90" y1="1203.21" x2="1162.70" y2="1203.21" stroke="#000" stroke-width="1.5" stroke-linecap="square"/>
<line x1="1062.90" y1="1218.75" x2="1114.00" y2="1218.75" stroke="#000" stroke-width="2.6" stroke-linecap="square"/>
<line x1="1161.70" y1="1283.41" x2="1161.70" y2="1291.43" stroke="#000" stroke-width="2.6" stroke-linecap="square"/>
<line x1="1161.70" y1="1283.41" x2="1162.70" y2="1283.41" stroke="#000" stroke-width="1.5" stroke-linecap="square"/>
<line x1="1161.70" y1="1291.43" x2="1162.70" y2="1291.43" stroke="#000" stroke-width="1.5" stroke-linecap="square"/>
<line x1="1158.80" y1="1267.37" x2="1158.80" y2="1275.39" stroke="#000" stroke-width="1.5" stroke-linecap="square"/>
<line x1="1158.80" y1="1267.37" x2="1162.70" y2="1267.37" stroke="#000" stroke-width="1.5" stroke-linecap="square"/>
<line x1="1158.80" y1="1275.39" x2="1162.70" y2="1275.39" stroke="#000" stroke-width="2.6" stroke-linecap="square"/>
<line x1="1147.50" y1="1271.38" x2="1147.50" y2="1287.42" stroke="#000" stroke-width="1.5" stroke-linecap="square"/>
<line x1="1147.50" y1="1271.38" x2="1158.80" y2="1271.38" stroke="#000" stroke-width="1.5" stroke-linecap="square"/>
<line x1="1147.50" y1="1287.42" x2="1161.70" y2="1287.42" stroke="#000" stroke-width="2.6" stroke-linecap="square"/>
<line x1="1127.60" y1="1259.35" x2="1127.60" y2="1279.40" stroke="#000" stroke-width="1.5" stroke-linecap="square"/>
<line x1="1127.60" y1="1259.35" x2="1162.70" y2="1259.35" stroke="#000" stroke-width="1.5" stroke-linecap="square"/>
<line x1="1127.60" y1="1279.40" x2="1147.50" y2="1279.40" stroke="#000" stroke-width="2.6" stroke-linecap="square"/>
<line x1="1061.60" y1="1251.33" x2="1061.60" y2="1269.38" stroke="#000" stroke-width="1.5" stroke-linecap="square"/>
<line x1="1061.60" y1="1251.33" x2="1162.70" y2="1251.33" stroke="#000" stroke-width="1.5" stroke-linecap="square"/>
<line x1="1061.60" y1="1269.38" x2="1127.60" y2="1269.38" stroke="#000" stroke-width="2.6" stroke-linecap="square"/>
<line x1="1061.60" y1="1210.98" x2="1061.60" y2="1260.35" stroke="#000" stroke-width="1.5" stroke-linecap="square"/>
</svg></body></html>
